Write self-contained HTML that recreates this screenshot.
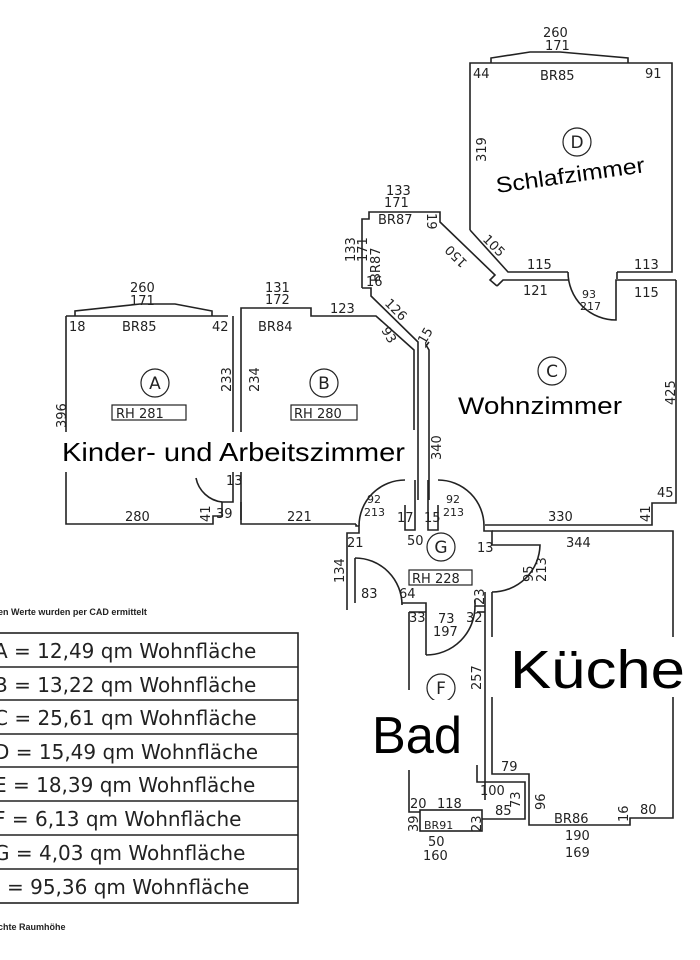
<!DOCTYPE html>
<html><head><meta charset="utf-8"><style>
html,body{margin:0;padding:0;background:#fff;}
svg{display:block;}
.d{font-family:"DejaVu Sans","Liberation Sans",sans-serif;font-size:13px;fill:#222;}
.s{font-family:"DejaVu Sans","Liberation Sans",sans-serif;font-size:11px;fill:#222;}
.t{font-family:"DejaVu Sans","Liberation Sans",sans-serif;font-size:20px;fill:#222;}
.b{font-family:"Liberation Sans",sans-serif;fill:#000;}
.c{font-family:"DejaVu Sans","Liberation Sans",sans-serif;font-size:17px;fill:#222;text-anchor:middle;}
</style></head><body>
<svg width="700" height="960" viewBox="0 0 700 960" xmlns="http://www.w3.org/2000/svg">
<g fill="none" stroke="#222" stroke-width="1.6">
<polyline points="66,316 228,316"/>
<polyline points="75,316 75,311 140,304 175,304 212,311 212,316"/>
<polyline points="66,316 66,524 213,524 213,516 222,516 222,502 233,502 233,316"/>
<polyline points="241,316 241,308 311,308 311,316 376,316 414,350 414,430"/>
<polyline points="241,316 241,520"/>
<polyline points="241,502 241,524 356,524"/>
<path d="M222,502 A30,30 0 0 1 196,478"/>
<polyline points="362,288 362,219 369,219 369,212 440,212 440,222 495,275 490,280 497,286"/>
<polyline points="362,288 371,288 371,296 418,342 418,500"/>
<polyline points="429,342 426,346 426,345 429,350 429,500"/>
<polyline points="470,230 470,63 672,63 672,272 617,272"/>
<polyline points="491,63 491,58 530,52 560,52 628,58 628,63"/>
<polyline points="470,230 508,272 568,272"/>
<polyline points="497,286 503,280 568,280"/>
<path d="M568,272 A48,48 0 0 0 616,320 L616,280 L676,280"/>
<polyline points="617,272 617,279"/>
<polyline points="676,280 676,503 652,503 652,525 485,525"/>
<polyline points="405,505 405,530 415,530 415,480"/>
<polyline points="428,480 428,530 438,530 438,505"/>
<path d="M405,480 A46,46 0 0 0 359,526"/>
<path d="M438,480 A46,46 0 0 1 484,526"/>
<polyline points="356,524 356,526 359,526 359,533 347,533 347,610"/>
<polyline points="355,558 355,603"/>
<path d="M355,558 A47,47 0 0 1 402,605 L402,603"/>
<polyline points="402,603 426,603 426,655"/>
<path d="M426,655 A49,49 0 0 0 475,606"/>
<polyline points="484,526 484,531 492,531 492,545"/>
<path d="M492,545 L540,545 A48,48 0 0 1 492,592"/>
<polyline points="492,531 673,531 673,637"/>
<polyline points="673,697 673,818 630,818 630,825 529,825 529,774 492,774 492,697"/>
<polyline points="492,592 492,637"/>
<polyline points="485,592 485,800"/>
<polyline points="475,600 475,606 485,606"/>
<polyline points="409,612 409,690"/>
<polyline points="409,612 426,612"/>
<polyline points="477,612 485,612"/>
<polyline points="409,770 409,812 420,812"/>
<polyline points="477,765 477,782 525,782 525,819 482,819"/>
<rect x="420" y="810" width="62" height="21"/>
<rect x="112" y="405" width="74" height="15" stroke-width="1.2"/>
<rect x="291" y="405" width="66" height="15" stroke-width="1.2"/>
<rect x="409" y="570" width="63" height="15" stroke-width="1.2"/>
<circle cx="155" cy="383" r="14" stroke-width="1.2"/>
<circle cx="324" cy="383" r="14" stroke-width="1.2"/>
<circle cx="552" cy="371" r="14" stroke-width="1.2"/>
<circle cx="577" cy="142" r="14" stroke-width="1.2"/>
<circle cx="441" cy="547" r="14" stroke-width="1.2"/>
<circle cx="441" cy="688" r="14" stroke-width="1.2"/>
<rect x="-5" y="633" width="303" height="270"/>
<line x1="-5" y1="667" x2="298" y2="667"/><line x1="-5" y1="700" x2="298" y2="700"/>
<line x1="-5" y1="734" x2="298" y2="734"/><line x1="-5" y1="767" x2="298" y2="767"/>
<line x1="-5" y1="801" x2="298" y2="801"/><line x1="-5" y1="835" x2="298" y2="835"/>
<line x1="-5" y1="869" x2="298" y2="869"/>
</g>
<rect x="55" y="432" width="360" height="40" fill="#fff"/>
<rect x="365" y="700" width="110" height="65" fill="#fff"/>
<g class="c">
<text x="155" y="389">A</text><text x="324" y="389">B</text>
<text x="552" y="377">C</text><text x="577" y="148">D</text>
<text x="441" y="553">G</text><text x="441" y="694">F</text>
</g>
<g class="d">
<text x="130" y="292">260</text><text x="130" y="305">171</text>
<text x="69" y="331">18</text><text x="122" y="331">BR85</text><text x="212" y="331">42</text>
<text x="265" y="292">131</text><text x="265" y="304">172</text>
<text x="258" y="331">BR84</text><text x="330" y="313">123</text>
<text x="116" y="418">RH 281</text><text x="294" y="418">RH 280</text>
<text x="412" y="583">RH 228</text>
<text x="125" y="521">280</text><text x="287" y="521">221</text>
<text x="226" y="485">13</text><text x="216" y="518">39</text>
<text x="386" y="195">133</text><text x="384" y="207">171</text>
<text x="378" y="224">BR87</text><text x="366" y="286">16</text>
<text x="543" y="37">260</text><text x="545" y="50">171</text>
<text x="473" y="78">44</text><text x="540" y="80">BR85</text><text x="645" y="78">91</text>
<text x="527" y="269">115</text><text x="634" y="269">113</text>
<text x="523" y="295">121</text><text x="634" y="297">115</text>
<text x="582" y="298" class="s">93</text><text x="580" y="310" class="s">217</text>
<text x="367" y="503" class="s">92</text><text x="364" y="516" class="s">213</text>
<text x="446" y="503" class="s">92</text><text x="443" y="516" class="s">213</text>
<text x="397" y="522">17</text><text x="424" y="522">15</text>
<text x="548" y="521">330</text><text x="566" y="547">344</text>
<text x="657" y="497">45</text>
<text x="407" y="545">50</text><text x="347" y="547">21</text>
<text x="477" y="552">13</text>
<text x="361" y="598">83</text><text x="399" y="598">64</text>
<text x="409" y="622">33</text><text x="438" y="623">73</text><text x="433" y="636">197</text><text x="466" y="622">32</text>
<text x="501" y="771">79</text><text x="480" y="795">100</text><text x="495" y="815">85</text>
<text x="410" y="808">20</text><text x="437" y="808">118</text>
<text x="424" y="829" class="s">BR91</text>
<text x="428" y="846">50</text><text x="423" y="860">160</text>
<text x="554" y="823">BR86</text><text x="640" y="814">80</text>
<text x="565" y="840">190</text><text x="565" y="857">169</text>
</g>
<g class="d">
<text transform="translate(66,428) rotate(-90)">396</text>
<text transform="translate(231,392) rotate(-90)">233</text>
<text transform="translate(259,392) rotate(-90)">234</text>
<text transform="translate(441,460) rotate(-90)">340</text>
<text transform="translate(675,405) rotate(-90)">425</text>
<text transform="translate(486,162) rotate(-90)">319</text>
<text transform="translate(355,262) rotate(-90)">133</text>
<text transform="translate(367,262) rotate(-90)">171</text>
<text transform="translate(380,282) rotate(-90)">BR87</text>
<text transform="translate(344,583) rotate(-90)">134</text>
<text transform="translate(481,690) rotate(-90)">257</text>
<text transform="translate(520,808) rotate(-90)">73</text>
<text transform="translate(545,810) rotate(-90)">96</text>
<text transform="translate(628,822) rotate(-90)">16</text>
<text transform="translate(418,832) rotate(-90)">39</text>
<text transform="translate(481,832) rotate(-90)">23</text>
<text transform="translate(484,605) rotate(-90)">23</text>
<text transform="translate(650,522) rotate(-90)">41</text>
<text transform="translate(210,522) rotate(-90)">41</text>
<text transform="translate(533,582) rotate(-90)">95</text>
<text transform="translate(546,582) rotate(-90)">213</text>
<text transform="translate(482,240) rotate(45)">105</text>
<text transform="translate(468,262) rotate(225)">150</text>
<text transform="translate(384,304) rotate(45)">126</text>
<text transform="translate(381,330) rotate(60)">93</text>
<text transform="translate(425,345) rotate(-60)">15</text>
<text transform="translate(427,213) rotate(90)">19</text>
</g>
<text x="497" y="193" transform="rotate(-8 497 193)" class="b" font-size="22" textLength="150" lengthAdjust="spacingAndGlyphs">Schlafzimmer</text>
<text x="458" y="414" class="b" font-size="24" textLength="164" lengthAdjust="spacingAndGlyphs">Wohnzimmer</text>
<text x="62" y="461" class="b" font-size="26" textLength="343" lengthAdjust="spacingAndGlyphs">Kinder- und Arbeitszimmer</text>
<text x="510" y="688" class="b" font-size="54" textLength="175" lengthAdjust="spacingAndGlyphs">Küche</text>
<text x="372" y="753" class="b" font-size="52" textLength="90" lengthAdjust="spacingAndGlyphs">Bad</text>
<text x="-2" y="615" font-family="Liberation Sans,sans-serif" font-size="9" font-weight="bold" fill="#222">en Werte wurden per CAD ermittelt</text>
<text x="-2" y="930" font-family="Liberation Sans,sans-serif" font-size="9" font-weight="bold" fill="#222">chte Raumhöhe</text>
<g class="t">
<text x="-6" y="658">A = 12,49 qm Wohnfläche</text>
<text x="-6" y="692">B = 13,22 qm Wohnfläche</text>
<text x="-6" y="725">C = 25,61 qm Wohnfläche</text>
<text x="-6" y="759">D = 15,49 qm Wohnfläche</text>
<text x="-6" y="792">E = 18,39 qm Wohnfläche</text>
<text x="-6" y="826">F = 6,13 qm Wohnfläche</text>
<text x="-6" y="860">G = 4,03 qm Wohnfläche</text>
<text x="-12" y="894">Σ = 95,36 qm Wohnfläche</text>
</g>
</svg>
</body></html>
